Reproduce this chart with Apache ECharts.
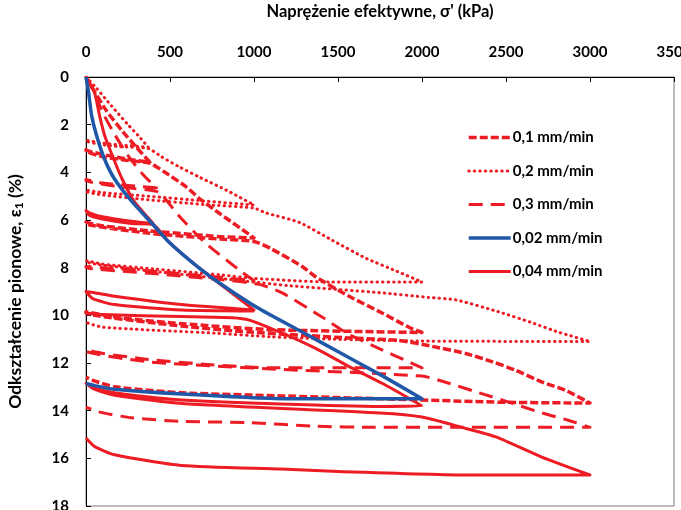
<!DOCTYPE html>
<html>
<head>
<meta charset="utf-8">
<script src="https://cdn.jsdelivr.net/npm/echarts@6/dist/echarts.min.js"></script>
<style>
  html, body { margin: 0; padding: 0; background: #fff; }
  #chart { width: 681px; height: 510px; }
</style>
</head>
<body>
<div id="chart"></div>
<script>
// Oedometer loading / unloading paths: [effective stress kPa, vertical strain %]

// 0,1 mm/min
const rate01Path = [
  [0,0],[50,0.6],[120,1.4],[220,2.3],[300,2.95],[380,3.57],
  [250,3.45],[100,3.25],[20,3.12],[0,3.06],
  [0,3.1],[100,3.35],[250,3.5],[380,3.62],
  [470,4.0],[595,4.6],[675,5.1],[800,5.75],[1000,6.75],
  [800,6.7],[370,6.45],[100,6.25],[0,6.1],
  [0,6.15],[370,6.55],[800,6.8],[1000,6.9],
  [1100,7.2],[1287,7.95],[1370,8.4],[1566,9.2],[1762,9.9],[1922,10.5],[2000,10.72],
  [1100,10.6],[570,10.35],[200,10.1],[0,9.85],
  [0,9.9],[570,10.45],[972,10.7],[1566,10.95],[1860,11.05],
  [2060,11.3],[2260,11.6],[2420,11.95],[2555,12.3],[2715,12.8],[2855,13.15],[3000,13.68],
  [2500,13.65],[1750,13.5],[1160,13.38],[570,13.25],[170,13.0],[50,12.75],[0,12.6]
];

// 0,2 mm/min
const rate02Path = [
  [0,0],[60,0.45],[150,1.2],[250,2.0],[310,2.45],[370,2.94],
  [200,2.85],[80,2.75],[0,2.65],
  [0,2.68],[80,2.82],[200,2.92],[370,3.0],
  [450,3.35],[550,3.75],[675,4.2],[850,4.8],[1000,5.37],
  [700,5.2],[370,5.0],[100,4.85],[0,4.75],
  [0,4.8],[100,4.95],[370,5.15],[700,5.35],[1000,5.5],
  [1070,5.7],[1270,6.1],[1466,6.85],[1665,7.6],[1850,8.15],[2000,8.6],
  [1450,8.6],[1000,8.45],[800,8.3],[400,8.05],[100,7.85],[0,7.7],
  [0,7.75],[400,8.15],[800,8.45],[1200,8.75],[1750,9.05],[2040,9.25],
  [2200,9.35],[2455,9.85],[2650,10.3],[2810,10.7],[3000,11.1],
  [2000,11.08],[1460,11.0],[1100,10.9],[770,10.75],[100,10.5],[0,10.3]
];

// 0,3 mm/min
const rate03Path = [
  [0,0],[45,0.6],[100,1.5],[170,2.4],[250,3.3],[340,4.1],[420,4.65],
  [250,4.55],[100,4.45],[0,4.3],
  [0,4.35],[100,4.5],[250,4.65],[420,4.8],
  [470,5.1],[550,5.8],[700,6.9],[930,8.2],[1000,8.55],
  [800,8.4],[400,8.15],[100,8.0],[0,7.95],
  [0,8.0],[400,8.25],[800,8.5],[1032,8.7],
  [1168,9.06],[1405,10.07],[1566,10.8],[1762,11.45],[1905,11.9],[2000,12.2],
  [1100,12.2],[700,12.05],[370,11.85],[100,11.6],[0,11.45],
  [0,11.5],[370,11.95],[1100,12.25],[2000,12.55],
  [2160,12.85],[2340,13.25],[2520,13.65],[2715,14.1],[2870,14.4],[3000,14.7],
  [2200,14.7],[1715,14.7],[1360,14.65],[965,14.5],[570,14.45],[270,14.3],[75,14.05],[0,13.85]
];

// 0,02 mm/min
const rate002Path = [
  [0,0],[15,0.63],[33,1.6],[62,2.43],[110,3.44],[170,4.28],[270,5.2],[400,6.2],
  [490,6.9],[627,7.75],[745,8.4],[1013,9.65],[1287,10.7],[1507,11.55],[1762,12.53],[2000,13.5],
  [1200,13.5],[570,13.3],[170,13.1],[50,12.95],[0,12.85]
];

// 0,04 mm/min, first run (cycles at 400 and 1000 kPa)
const rate004PathA = [
  [0,0],[50,0.63],[80,1.6],[110,2.43],[165,3.44],[215,4.28],[285,5.2],[400,6.15],
  [270,6.05],[90,5.85],[20,5.7],[0,5.6],
  [20,5.8],[90,5.95],[270,6.15],[400,6.2],
  [490,6.9],[627,7.75],[745,8.4],[1000,9.78],
  [570,9.55],[170,9.2],[50,9.05],[0,9.0],
  [40,9.3],[170,9.55],[570,9.78],[1000,9.82]
];

// 0,04 mm/min, second run (cycles at 2000 and 3000 kPa)
const rate004PathB = [
  [0,9.9],[100,9.97],[570,10.05],[870,10.1],[972,10.2],[1168,10.75],[1370,11.4],[1566,12.15],
  [1762,12.85],[1940,13.55],[2000,13.8],
  [1750,13.82],[570,13.55],[170,13.25],[50,13.05],[0,12.85],
  [50,13.1],[170,13.35],[570,13.7],[1750,14.1],[2000,14.27],[2237,14.7],[2440,15.1],[2713,15.95],[3000,16.7],
  [2300,16.7],[1500,16.55],[1160,16.45],[570,16.3],[170,15.85],[50,15.5],[0,15.15]
];

const legendNames = ['0,1 mm/min', '0,2 mm/min', '0,3 mm/min', '0,02 mm/min', '0,04 mm/min'];
const xTitle = 'Naprężenie efektywne, σ\' (kPa)';
const yTitle = 'Odkształcenie pionowe, ε{sub|1} (%)';

const RED = '#ed1c24';
const BLUE = '#1f58a8';
const FONT = 'Lato';

const styles = {
  '0,1 mm/min':  { color: RED,  width: 3.5, type: [8, 3],   cap: 'butt' },
  '0,2 mm/min':  { color: RED,  width: 3,   type: [0.5, 5], cap: 'round' },
  '0,3 mm/min':  { color: RED,  width: 3,   type: [14, 8],  cap: 'butt' },
  '0,02 mm/min': { color: BLUE, width: 3.5, type: 'solid',  cap: 'butt' },
  '0,04 mm/min': { color: RED,  width: 3,   type: 'solid',  cap: 'butt' }
};

function lineSeries(name, data, z) {
  const s = styles[name];
  return {
    type: 'line', name: name, data: data, z: z,
    showSymbol: false, symbol: 'none', smooth: 0.2,
    color: s.color,
    lineStyle: { color: s.color, width: s.width, type: s.type, cap: s.cap, join: 'round' },
    emphasis: { disabled: true }
  };
}

const series = [
  lineSeries('0,1 mm/min', rate01Path, 2),
  lineSeries('0,2 mm/min', rate02Path, 2),
  lineSeries('0,3 mm/min', rate03Path, 2),
  lineSeries('0,04 mm/min', rate004PathA, 3),
  lineSeries('0,04 mm/min', rate004PathB, 3),
  lineSeries('0,02 mm/min', rate002Path, 4)
];

const tickText = { fontFamily: FONT, fontWeight: 'bold', fontSize: 15, color: '#000' };

const chart = echarts.init(document.getElementById('chart'), null, { renderer: 'canvas' });
chart.setOption({
  animation: false,
  backgroundColor: '#fff',
  grid: {
    left: 86, right: 7, top: 77, bottom: 4,
    outerBoundsMode: 'none', containLabel: false,
    show: true, borderColor: '#7a7a7a', borderWidth: 1
  },
  legend: {
    orient: 'vertical', left: 462, top: 125,
    itemWidth: 42, itemHeight: 14, itemGap: 18.5,
    selectedMode: false,
    itemStyle: { color: 'rgba(0,0,0,0)', borderWidth: 0 },
    textStyle: { fontFamily: FONT, fontWeight: 'bold', fontSize: 15, color: '#000', padding: [0, 0, 0, -3] },
    data: legendNames.map(n => ({
      name: n,
      itemStyle: { color: 'rgba(0,0,0,0)', borderWidth: 0 },
      lineStyle: { color: styles[n].color, width: styles[n].width, type: styles[n].type, cap: styles[n].cap }
    }))
  },
  xAxis: {
    type: 'value', position: 'top', min: 0, max: 3500, interval: 500,
    name: xTitle, nameLocation: 'middle', nameGap: 57,
    nameTextStyle: { fontFamily: FONT, fontWeight: 'bold', fontSize: 16.5, color: '#000' },
    axisLine: { show: true, onZero: false, lineStyle: { color: '#000', width: 1 } },
    axisTick: { show: true, inside: true, length: 5, lineStyle: { color: '#000' } },
    axisLabel: Object.assign({ margin: 17, formatter: v => String(v) }, tickText),
    splitLine: { show: false }
  },
  yAxis: {
    type: 'value', inverse: true, min: 0, max: 18, interval: 2,
    name: yTitle, nameLocation: 'middle', nameGap: 61,
    nameTextStyle: {
      fontFamily: FONT, fontWeight: 'bold', fontSize: 17.5, color: '#000',
      rich: { sub: { fontFamily: FONT, fontWeight: 'bold', fontSize: 12, color: '#000', verticalAlign: 'bottom', padding: [7, 0, 0, 0] } }
    },
    axisLine: { show: true, onZero: false, lineStyle: { color: '#000', width: 1 } },
    axisTick: { show: true, inside: true, length: 5, lineStyle: { color: '#000' } },
    axisLabel: Object.assign({ margin: 17, formatter: v => String(v) }, tickText),
    splitLine: { show: false }
  },
  series: series
});
</script>
</body>
</html>
